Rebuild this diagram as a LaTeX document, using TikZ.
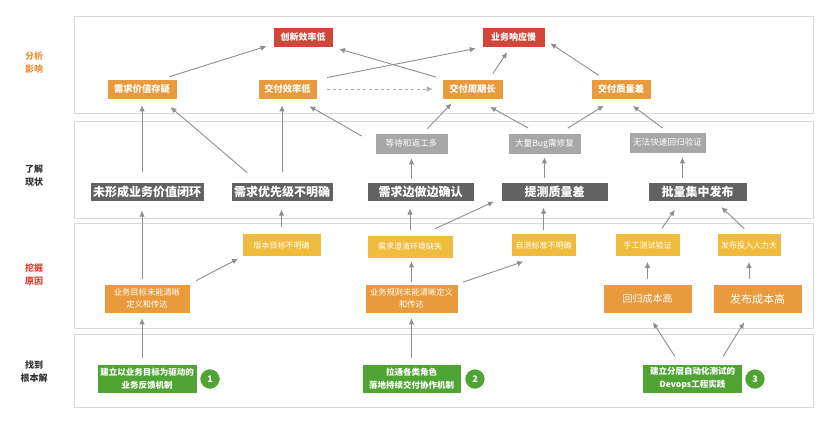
\documentclass[tikz,border=0pt]{standalone}
\usepackage{fontspec}
\setmainfont{Noto Sans CJK SC}
\usetikzlibrary{arrows.meta,shadows}

\definecolor{boxred}{HTML}{D2453A}
\definecolor{boxorange}{HTML}{E89A3C}
\definecolor{boxyellow}{HTML}{F0BC3E}
\definecolor{boxdark}{HTML}{626262}
\definecolor{boxgray}{HTML}{A7A7A7}
\definecolor{boxgreen}{HTML}{4FA434}
\definecolor{linkgray}{HTML}{8E8E8E}
\definecolor{dashgray}{HTML}{ABABAB}
\definecolor{framegray}{HTML}{D8D8D8}
\definecolor{sideorange}{HTML}{E8923A}
\definecolor{sidered}{HTML}{D8412F}
\definecolor{sidedark}{HTML}{333333}

\tikzset{
  frame/.style={draw=framegray, line width=0.8pt},
  side/.style={font=\bfseries\fontsize{9}{13}\selectfont, align=center},
  box/.style={draw=white, line width=0.6pt, text=white, inner sep=0pt, align=center,
    drop shadow={shadow xshift=0.6pt, shadow yshift=-0.8pt, opacity=0.3}},
  redbox/.style={box, fill=boxred, minimum width=60pt, minimum height=20pt,
    font=\bfseries\fontsize{9}{11}\selectfont},
  topbox/.style={box, fill=boxorange, minimum width=60pt, minimum height=20pt,
    font=\bfseries\fontsize{9.3}{11}\selectfont},
  graybox/.style={box, fill=boxgray, minimum width=73pt, minimum height=21pt,
    font=\fontsize{8.6}{10}\selectfont},
  darkbox/.style={box, fill=boxdark, minimum height=18.5pt,
    font=\bfseries\fontsize{12}{14}\selectfont},
  yellowbox/.style={box, fill=boxyellow, minimum height=23pt,
    font=\fontsize{8}{10}\selectfont},
  causebox/.style={box, fill=boxorange, minimum height=29pt,
    font=\fontsize{8.3}{11.7}\selectfont},
  fixbox/.style={box, fill=boxgreen, minimum width=100pt, minimum height=29pt,
    font=\bfseries\fontsize{8.5}{13}\selectfont},
  numdot/.style={circle, fill=boxgreen, draw=white, line width=1.4pt, text=white,
    minimum size=21pt, inner sep=0pt, font=\bfseries\fontsize{9}{10}\selectfont,
    drop shadow={shadow xshift=0.6pt, shadow yshift=-0.8pt, opacity=0.3}},
  link/.style={draw=linkgray, line width=0.9pt, ->},
  later/.style={draw=dashgray, line width=0.9pt, dash pattern=on 3pt off 3pt, ->},
}

\begin{document}
\begin{tikzpicture}[x=1pt,y=-1pt,>={Latex[length=6pt,width=5.5pt]}]
  \useasboundingbox (0,0) rectangle (830,422);
  % bands
  \draw[frame] (74,16) rectangle (813,113);
  \draw[frame] (74,121) rectangle (813,218);
  \draw[frame] (74,223) rectangle (813,328);
  \draw[frame] (74,334) rectangle (813,407);
  % band titles
  \node[side, text=sideorange] (analyse) at (34,63) {分析\\影响};
  \node[side, text=sidedark] (status) at (34,176) {了解\\现状};
  \node[side, text=sidered] (cause) at (34,275) {挖掘\\原因};
  \node[side, text=sidedark] (root) at (34,372) {找到\\根本解};

  % effects
  \node[redbox] (innov) at (303,37) {创新效率低};
  \node[redbox, minimum width=63pt] (resp) at (513.5,37) {业务响应慢};
  \node[topbox, minimum width=70pt] (value) at (142,89) {需求价值存疑};
  \node[topbox, minimum width=59pt] (eff) at (287.5,89) {交付效率低};
  \node[topbox, minimum width=61pt] (cycle) at (472.5,89) {交付周期长};
  \node[topbox] (quality) at (621,89) {交付质量差};

  % current state
  \node[graybox] (wait) at (411.5,143.5) {等待和返工多};
  \node[graybox] (bug) at (544.5,143.5) {大量Bug需修复};
  \node[graybox, minimum width=77pt] (regress) at (667.5,142.5) {无法快速回归验证};
  \node[darkbox, minimum width=114pt] (loop) at (147,192) {未形成业务价值闭环};
  \node[darkbox, minimum width=102pt] (prio) at (282,192) {需求优先级不明确};
  \node[darkbox, minimum width=107pt] (confirm) at (420.5,192) {需求边做边确认};
  \node[darkbox, minimum width=107pt] (test) at (554.5,192) {提测质量差};
  \node[darkbox, minimum width=99pt] (batch) at (697.5,192) {批量集中发布};

  % causes
  \node[yellowbox, minimum width=79pt] (version) at (281.5,245) {版本目标不明确};
  \node[yellowbox, minimum width=86pt] (env) at (410,246.5) {需求澄清环境缺失};
  \node[yellowbox, minimum width=65pt] (selftest) at (543.5,245) {自测标准不明确};
  \node[yellowbox, minimum width=65pt] (manual) at (647.5,245) {手工测试验证};
  \node[yellowbox, minimum width=64pt] (manpower) at (749,245) {发布投入人力大};
  \node[causebox, minimum width=86pt] (goal) at (147,298.5) {业务目标未能清晰\\定义和传达};
  \node[causebox, minimum width=93pt] (rule) at (411.5,298.5) {业务规则未能清晰定义\\和传达};
  \node[causebox, minimum width=89pt, font=\fontsize{10}{12}\selectfont] (regcost) at (647.5,299) {回归成本高};
  \node[causebox, minimum width=89pt, font=\fontsize{11}{13}\selectfont] (relcost) at (757.5,299) {发布成本高};

  % root fixes
  \node[fixbox] (fixa) at (147,378.5) {建立以业务目标为驱动的\\业务反馈机制};
  \node[numdot] (numa) at (210,379) {1};
  \node[fixbox, minimum width=99pt] (fixb) at (411.5,378.5) {拉通各类角色\\落地持续交付协作机制};
  \node[numdot] (numb) at (475,379) {2};
  \node[fixbox] (fixc) at (692.5,378.5) {建立分层自动化测试的\\Devops工程实践};
  \node[numdot] (numc) at (755,379) {3};

  % effects -> effects
  \draw[link, shorten <=6.5pt, shorten >=6.5pt] ([xshift=21pt]value.north) -- ([yshift=3pt]innov.south west);
  \draw[link, shorten <=6pt, shorten >=6pt] (cycle.north west) -- (innov.south east);
  \draw[link, shorten <=6pt, shorten >=6pt] ([xshift=4pt]eff.north east) -- (resp.south west);
  \draw[link, shorten <=6pt, shorten >=6pt] ([xshift=17pt]cycle.north) -- ([xshift=-3pt]resp.south);
  \draw[link, shorten <=6pt, shorten >=6pt] ([xshift=13pt]quality.north west) -- ([yshift=-3pt]resp.east);
  \draw[later, shorten <=10pt, shorten >=9pt] (eff.east) -- (cycle.west);

  % state -> effects
  \draw[link, shorten <=10pt, shorten >=6pt] (value.south |- loop.north) -- (value.south);
  \draw[link, shorten <=15pt, shorten >=12pt] ([xshift=28pt]prio.north west) -- ([xshift=-16pt]value.south east);
  \draw[link, shorten <=10pt, shorten >=6pt] (prio.north) -- (prio.north |- eff.south);
  \draw[link, shorten <=15pt, shorten >=14pt] (wait.west) -- ([xshift=-20pt]eff.south east);
  \draw[link, shorten <=5.5pt, shorten >=5.5pt] ([xshift=12pt]wait.north) -- ([xshift=-17pt]cycle.south);
  \draw[link, shorten <=9.5pt, shorten >=15.5pt] ([xshift=-8pt]bug.north) -- ([xshift=4pt]cycle.south);
  \draw[link, shorten <=8.5pt, shorten >=12pt] ([xshift=16pt]bug.north) -- ([xshift=-7pt]quality.south);
  \draw[link, shorten <=6pt, shorten >=11pt] (regress.north) -- ([xshift=3pt]quality.south);
  \draw[link, shorten <=3pt, shorten >=4pt] (wait.south |- confirm.north) -- (wait.south);
  \draw[link, shorten <=4pt, shorten >=3pt] (bug.south |- test.north) -- (bug.south);
  \draw[link, shorten <=4pt, shorten >=4pt] ([xshift=-15pt]batch.north) -- ([xshift=15pt]regress.south);

  % causes -> state
  \draw[link, shorten <=5pt, shorten >=9pt] ([xshift=-5pt]goal.north) -- ([xshift=-5pt]loop.south);
  \draw[link, shorten <=6.5pt, shorten >=4pt] (goal.north east) -- (version.south west);
  \draw[link, shorten <=6pt, shorten >=8pt] (version.north) -- (version.north |- prio.south);
  \draw[link, shorten <=5pt, shorten >=7pt] (env.north) -- (env.north |- confirm.south);
  \draw[link, shorten <=14pt, shorten >=7.5pt] ([xshift=12pt]env.north) -- ([yshift=3pt]test.south west);
  \draw[link, shorten <=3pt, shorten >=6pt] (selftest.north) -- (selftest.north |- test.south);
  \draw[link, shorten <=6pt, shorten >=10pt] ([xshift=11pt]manual.north) -- ([xshift=-17pt]batch.south);
  \draw[link, shorten <=6.5pt, shorten >=8pt] (manpower.north) -- ([xshift=18pt]batch.south);
  \draw[link, shorten <=2pt, shorten >=3pt] (rule.north) -- (rule.north |- env.south);
  \draw[link, shorten <=5pt, shorten >=15pt] (rule.north east) -- ([xshift=-6pt]selftest.south);
  \draw[link, shorten <=5pt, shorten >=5pt] (regcost.north) -- (regcost.north |- manual.south);
  \draw[link, shorten <=5pt, shorten >=5pt] (manpower.south |- relcost.north) -- (manpower.south);

  % fixes -> causes
  \draw[link, shorten <=6pt, shorten >=5pt] ([xshift=-5pt]fixa.north) -- ([xshift=-5pt]goal.south);
  \draw[link, shorten <=6pt, shorten >=5pt] (fixb.north) -- (fixb.north |- rule.south);
  \draw[link, shorten <=9pt, shorten >=10pt] ([xshift=-13pt]fixc.north) -- (regcost.south);
  \draw[link, shorten <=8.5pt, shorten >=10pt] ([xshift=26pt]fixc.north) -- ([xshift=-8pt]relcost.south);
\end{tikzpicture}
\end{document}
